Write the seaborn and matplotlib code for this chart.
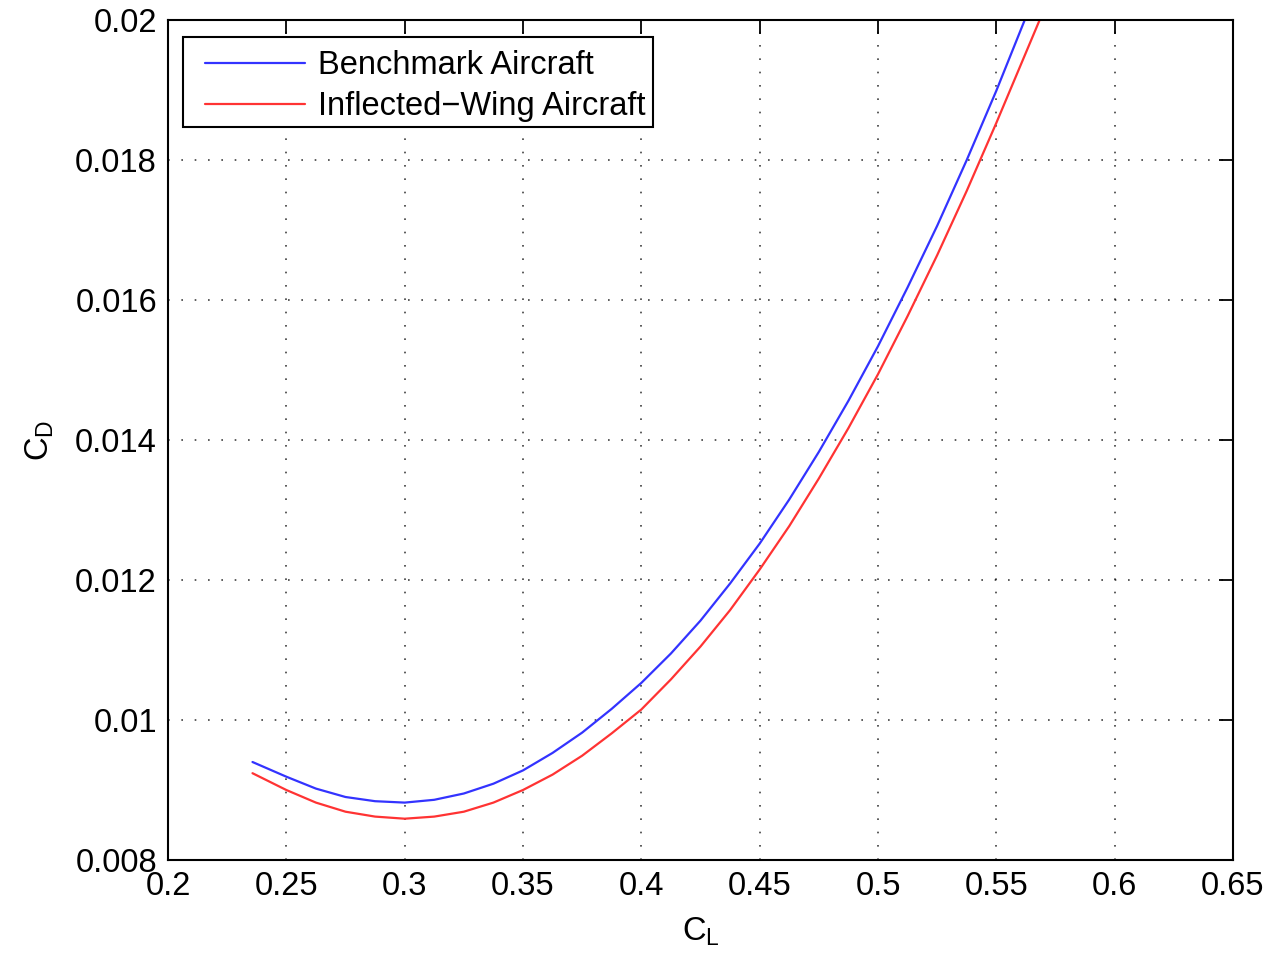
import numpy as np
import pandas as pd
import matplotlib
matplotlib.use("Agg")
import matplotlib.pyplot as plt
from matplotlib.patches import Rectangle
import seaborn as sns

# ---- data ----
cl_benchmark = [0.2357, 0.25, 0.2625, 0.275, 0.2875, 0.30, 0.3125, 0.325, 0.3375,
                0.35, 0.3625, 0.375, 0.3875, 0.40, 0.4125, 0.425, 0.4375, 0.45,
                0.4625, 0.475, 0.4875, 0.50, 0.5125, 0.525, 0.5375, 0.55, 0.562]
cd_benchmark = [0.00940, 0.00919, 0.00902, 0.00890, 0.00884, 0.00882, 0.00886, 0.00895,
                0.00909, 0.00928, 0.00953, 0.00982, 0.01016, 0.01053, 0.01095, 0.01142,
                0.01195, 0.01252, 0.01315, 0.01383, 0.01456, 0.01534, 0.01618, 0.01706,
                0.01800, 0.01899, 0.02000]

cl_inflected = [0.2357, 0.25, 0.2625, 0.275, 0.2875, 0.30, 0.3125, 0.325, 0.3375,
                0.35, 0.3625, 0.375, 0.3875, 0.40, 0.4125, 0.425, 0.4375, 0.45,
                0.4625, 0.475, 0.4875, 0.50, 0.5125, 0.525, 0.5375, 0.55, 0.5683]
cd_inflected = [0.00924, 0.00900, 0.00882, 0.00869, 0.00862, 0.00859, 0.00862, 0.00869,
                0.00882, 0.00900, 0.00922, 0.00949, 0.00981, 0.01015, 0.01058, 0.01105,
                0.01157, 0.01215, 0.01277, 0.01345, 0.01417, 0.01494, 0.01577, 0.01664,
                0.01756, 0.01853, 0.02000]

series_names = ["Benchmark Aircraft", "Inflected\u2212Wing Aircraft"]
x_ticks = [0.2, 0.25, 0.3, 0.35, 0.4, 0.45, 0.5, 0.55, 0.6, 0.65]
x_tick_labels = ["0.2", "0.25", "0.3", "0.35", "0.4", "0.45", "0.5", "0.55", "0.6", "0.65"]
y_ticks = [0.008, 0.01, 0.012, 0.014, 0.016, 0.018, 0.02]
y_tick_labels = ["0.008", "0.01", "0.012", "0.014", "0.016", "0.018", "0.02"]

df = pd.concat([
    pd.DataFrame({"CL": cl_benchmark, "CD": cd_benchmark, "series": series_names[0]}),
    pd.DataFrame({"CL": cl_inflected, "CD": cd_inflected, "series": series_names[1]}),
], ignore_index=True)

sns.set_style("white")
plt.rcParams["font.family"] = ["Liberation Sans", "DejaVu Sans"]
plt.rcParams["mathtext.default"] = "regular"
plt.rcParams["lines.solid_joinstyle"] = "round"
plt.rcParams["text.color"] = "black"
plt.rcParams["axes.labelcolor"] = "black"

fig = plt.figure(figsize=(12.7, 9.58), dpi=100)
ax = fig.add_axes([168 / 1270, 1 - 860 / 958, (1233 - 168) / 1270, (860 - 20) / 958])

sns.lineplot(data=df, x="CL", y="CD", hue="series", sort=False, estimator=None,
             palette={series_names[0]: "#3333ff", series_names[1]: "#ff3333"},
             linewidth=1.6, ax=ax)

ax.set_xlim(0.2, 0.65)
ax.set_ylim(0.008, 0.02)
ax.set_xticks(x_ticks)
ax.set_xticklabels(x_tick_labels)
ax.set_yticks(y_ticks)
ax.set_yticklabels(y_tick_labels)

ax.grid(True, linestyle=(0, (1, 7)), color="black", linewidth=1.2, alpha=0.75)
for s in ax.spines.values():
    s.set_color("black")
    s.set_linewidth(1.5)
ax.tick_params(direction="in", length=10, width=1.3, top=True, right=True,
               labelsize=23.5, colors="black", pad=8)

ax.set_xlabel("C$_L$", fontsize=23.5, labelpad=10)
ax.set_ylabel("C$_D$", fontsize=23.5, labelpad=14)

# legend frame (MATLAB-style box)
frame = Rectangle((15 / 1065, 1 - 107 / 840), 470 / 1065, 90 / 840,
                  transform=ax.transAxes, facecolor="white", edgecolor="black",
                  linewidth=1.5, zorder=4.5)
ax.add_patch(frame)

leg = ax.legend(loc="upper left", bbox_to_anchor=(37 / 1065, 1 - 30 / 840),
                borderaxespad=0, fontsize=23.5, frameon=False,
                handlelength=3.05, handletextpad=0.4, borderpad=0.0,
                labelspacing=0.31, title=None)
leg.set_zorder(5)
for line in leg.get_lines():
    line.set_linewidth(1.6)

fig.savefig("out.png", dpi=100)
